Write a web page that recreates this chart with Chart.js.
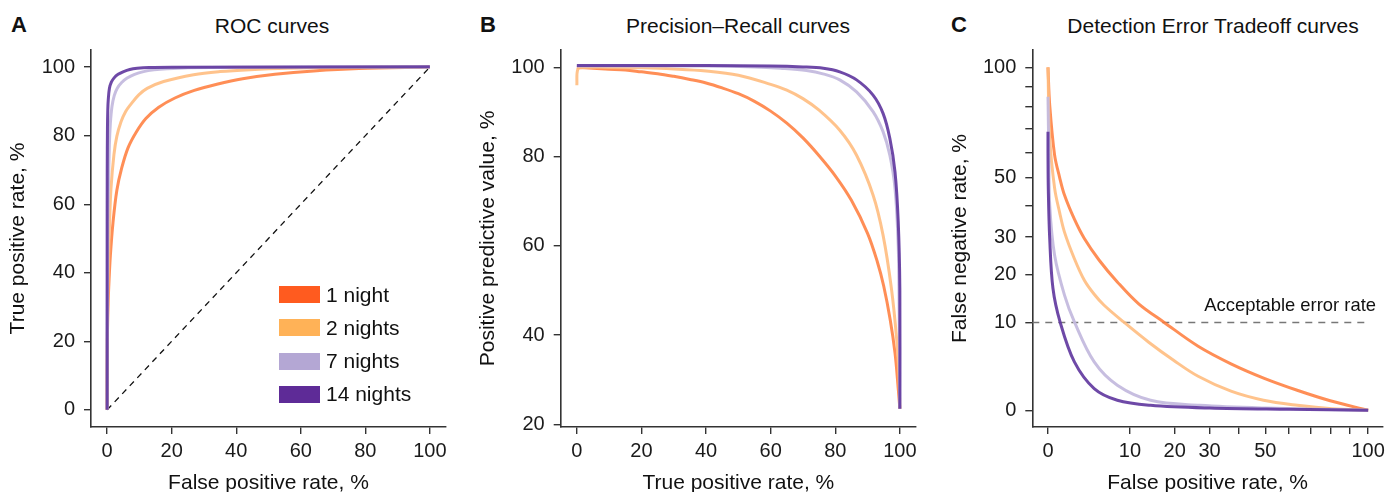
<html>
<head>
<script src="https://cdn.jsdelivr.net/npm/chart.js"></script>
<style>
  body { margin:0; background:#fff; width:1390px; height:492px; overflow:hidden; position:relative;
         font-family:'Liberation Sans', Arial, Helvetica, sans-serif; color:#111; }
  canvas { position:absolute; top:0; }
  .letter { position:absolute; top:14px; font-weight:bold; font-size:22px; line-height:1; }
  .title { position:absolute; top:15px; width:400px; font-size:21px; line-height:1; text-align:center; white-space:nowrap; }
  .key { position:absolute; left:279px; width:41px; height:17px; }
  .keytext { position:absolute; left:326px; font-size:21px; line-height:1; white-space:nowrap; }
  #note { position:absolute; right:14px; top:296px; font-size:18.4px; line-height:1; white-space:nowrap; }
</style>
</head>
<body>
  <div class="letter" style="left:11px">A</div>
  <div class="letter" style="left:480px">B</div>
  <div class="letter" style="left:951px">C</div>
  <div class="title" style="left:72px">ROC curves</div>
  <div class="title" style="left:538px">Precision–Recall curves</div>
  <div class="title" style="left:1013px">Detection Error Tradeoff curves</div>

  <canvas id="roc" width="460" height="492" style="left:0px"></canvas>
  <canvas id="pr" width="470" height="492" style="left:460px"></canvas>
  <canvas id="det" width="460" height="492" style="left:930px"></canvas>

  <div id="legend"></div>
  <div id="note">Acceptable error rate</div>

<script>
// series
const seriesNames = ['1 night', '2 nights', '7 nights', '14 nights'];
const lineColors = ['rgba(255,122,56,0.85)', 'rgba(255,188,128,0.9)', 'rgba(196,186,222,0.95)', 'rgba(98,58,160,0.92)'];
const keyColors = ['#ff5b1f', '#ffb257', '#b4a7d4', '#5e2b97'];

// ROC: false positive rate (x) vs true positive rate (y), %
const roc1x = [0, 0.1, 0.3, 0.6, 1.0, 1.8, 3.0, 4.5, 6.5, 9, 12, 16, 21, 27, 34, 42, 52, 64, 78, 100];
const roc1y = [0, 22, 31, 38, 45, 54.5, 64, 70.5, 76.5, 81, 85, 88.3, 91, 93.2, 95, 96.6, 97.9, 98.9, 99.6, 100];
const roc2x = [0, 0.05, 0.2, 0.45, 0.8, 1.2, 2.1, 3.0, 4.3, 5.7, 7.2, 9.8, 12.4, 17.5, 26.8, 35, 44.3, 56, 72, 100];
const roc2y = [0, 20, 33, 44, 56, 64.7, 74.4, 79.8, 84.1, 87, 89, 91.9, 93.8, 95.8, 97.8, 98.7, 99.25, 99.65, 99.9, 100];
const roc7x = [0, 0.03, 0.1, 0.2, 0.4, 0.7, 1.0, 1.5, 2.2, 3.1, 4.5, 6.2, 8.5, 11.3, 14.5, 18.6, 25, 40, 100];
const roc7y = [0, 20, 35, 52, 64.7, 77.5, 83.6, 88.5, 91.7, 93.8, 95.5, 96.8, 97.9, 98.7, 99.2, 99.55, 99.85, 100, 100];
const roc14x = [0, 0, 0.03, 0.1, 0.2, 0.35, 0.7, 1.3, 2.1, 3.4, 5.1, 7, 9.3, 13, 20, 100];
const roc14y = [0, 40, 70, 82, 87.5, 90.5, 93.8, 95.6, 96.8, 97.9, 98.7, 99.3, 99.65, 99.9, 100, 100.1];

// Precision-Recall: true positive rate (x) vs positive predictive value (y), %
const pr1x = [0, 5, 10, 15, 20, 25, 30, 35, 40, 45, 50, 55, 60, 65, 70, 75, 80, 85, 90, 93, 95, 97, 98.5, 99.5, 100];
const pr1y = [100, 99.8, 99.6, 99.4, 99.0, 98.6, 98.0, 97.3, 96.5, 95.4, 94.1, 92.4, 90.2, 87.5, 84.2, 80.2, 75.7, 70.2, 62.8, 56.5, 51, 43.5, 36, 28, 23.5];
const pr2x = [0, 0.3, 2, 10, 20, 30, 40, 50, 60, 65, 70, 75, 81.4, 86.6, 91.7, 94.8, 97.4, 99.0, 99.7, 100];
const pr2y = [96, 99.6, 100, 100, 99.9, 99.65, 99.2, 98.25, 96.2, 94.9, 93.0, 90.4, 85.9, 80.3, 71.4, 62.4, 50.4, 39.2, 31, 23.5];
const pr7x = [0, 20, 40, 55, 63, 71.1, 76.5, 81.4, 86.6, 91.7, 94.8, 96.9, 98.5, 99.5, 99.8, 100];
const pr7y = [100.3, 100.3, 100.3, 100.1, 99.8, 99.3, 98.5, 97.2, 94.5, 90.1, 85.6, 80.3, 72.9, 60, 45, 23.5];
const pr14x = [0, 20, 40, 60, 70, 76.3, 81.4, 86.6, 91.7, 94.8, 96.9, 98.5, 99.5, 100, 100];
const pr14y = [100.4, 100.4, 100.4, 100.3, 100.1, 99.8, 99.0, 97.2, 93.8, 89.7, 84.1, 76.6, 65.4, 50.4, 23.5];

// DET: false positive rate (x) vs false negative rate (y), %
const det1x = [0, 0.1, 0.41, 0.76, 1.15, 2.05, 3.11, 4.99, 7.76, 11.7, 17.2, 26.5, 37.1, 49.6, 63.7, 79.6, 100];
const det1y = [100, 81, 58.8, 50.2, 43.6, 35.5, 29.6, 23.6, 18.25, 13.5, 10.1, 6.24, 3.96, 2.4, 1.34, 0.57, 0];
const det2x = [0, 0.1, 0.41, 0.76, 1.15, 2.05, 3.11, 4.32, 5.69, 8.9, 13.8, 19.7, 26.5, 37.1, 49.3, 63.8, 80.5, 100];
const det2y = [100, 66, 46.1, 37.8, 31.5, 24.0, 18.65, 15.5, 13.23, 10.05, 6.82, 4.38, 2.6, 1.26, 0.6, 0.28, 0.08, 0];
const det7x = [0, 0.05, 0.1, 0.41, 1.15, 2.05, 4.32, 7.76, 14.2, 27, 50, 100];
const det7y = [85, 58.8, 40.1, 24.9, 15.3, 10.1, 4.18, 1.76, 0.6, 0.28, 0.12, 0];
const det14x = [0, 0, 0.02, 0.1, 0.3, 0.8, 2.05, 4.32, 7.76, 14.2, 30, 60, 100];
const det14y = [68.7, 60, 45, 29.6, 16.8, 10.1, 4.18, 1.47, 0.6, 0.28, 0.12, 0.05, 0];
const acceptableError = 10;

// axes
const linTicks = [0, 20, 40, 60, 80, 100];
const prYTicks = [20, 40, 60, 80, 100];
const detTicks = [0, 10, 20, 30, 40, 50, 60, 70, 80, 90, 100];
const detLabels = [0, 10, 20, 30, 50, 100];
const detMin = -0.69;

const FONT = "'Liberation Sans', Arial, Helvetica, sans-serif";

// square-root-of-(v+1) axis used by the DET panel
class SqrtScale extends Chart.LinearScale {
  static id = 'sqrt1';
  static defaults = {};
  tf(v) { return Math.sqrt(Math.max(v, -1) + 1); }
  getPixelForValue(v) {
    const a = this.tf(this.min), b = this.tf(this.max);
    return this.getPixelForDecimal((this.tf(v) - a) / (b - a));
  }
  getValueForPixel(p) {
    const a = this.tf(this.min), b = this.tf(this.max);
    const t = a + this.getDecimalForPixel(p) * (b - a);
    return t * t - 1;
  }
}
Chart.register(SqrtScale);

function axis(o) {
  return {
    type: o.type || 'linear',
    min: o.min, max: o.max,
    afterBuildTicks: s => { s.ticks = o.ticks.map(v => ({value: v})); },
    afterFit: s => { if (o.isY) s.width = o.size; else s.height = o.size; },
    ticks: {
      autoSkip: false, maxRotation: 0, color: '#1a1a1a',
      font: {family: FONT, size: 20}, padding: o.isY ? 9 : 5,
      callback: v => (o.labels || o.ticks).includes(v) ? String(v) : ''
    },
    grid: {drawOnChartArea: false, drawTicks: true, tickLength: 7, color: '#333', tickColor: '#333', lineWidth: 1.4},
    border: {display: true, color: '#333', width: 1.6},
    title: {display: true, text: o.title, color: '#111', font: {family: FONT, size: 21, lineHeight: 0.8},
            padding: {top: o.titlePad || 0, bottom: 0}}
  };
}

function curves(xs, ys) {
  return seriesNames.map((name, i) => ({
    label: name,
    data: xs[i].map((x, j) => ({x: x, y: ys[i][j]})),
    borderColor: lineColors[i], borderWidth: 3, pointRadius: 0, tension: 0.35, fill: false, order: 4 - i
  }));
}

function makeChart(id, datasets, xAxis, yAxis, right) {
  return new Chart(document.getElementById(id), {
    type: 'line',
    data: {datasets: datasets},
    options: {
      responsive: false, animation: false, devicePixelRatio: 1, events: [],
      layout: {padding: {top: 50, right: right, left: 0, bottom: 0}},
      plugins: {legend: {display: false}, tooltip: {enabled: false}},
      scales: {x: xAxis, y: yAxis}
    }
  });
}

// A: ROC
const rocSets = curves([roc1x, roc2x, roc7x, roc14x], [roc1y, roc2y, roc7y, roc14y]);
rocSets.push({label: 'chance', data: [{x: 0, y: 0}, {x: 100, y: 100}], borderColor: '#111', borderWidth: 1.3,
              borderDash: [6, 5], pointRadius: 0, order: 10});
makeChart('roc', rocSets,
  axis({min: -5, max: 105, ticks: linTicks, title: 'False positive rate, %', size: 65}),
  axis({min: -5, max: 105, ticks: linTicks, title: 'True positive rate, %', size: 91, isY: true, titlePad: 10}),
  14);

// B: Precision-Recall
makeChart('pr', curves([pr1x, pr2x, pr7x, pr14x], [pr1y, pr2y, pr7y, pr14y]),
  axis({min: -5, max: 105, ticks: linTicks, title: 'True positive rate, %', size: 65}),
  axis({min: 19.4, max: 103.9, ticks: prYTicks, title: 'Positive predictive value, %', size: 100.7, isY: true, titlePad: 19.5}),
  14);

// C: DET
const detSets = curves([det1x, det2x, det7x, det14x], [det1y, det2y, det7y, det14y]);
detSets.push({label: 'Acceptable error rate', data: [{x: detMin, y: acceptableError}, {x: 100, y: acceptableError}],
              borderColor: '#777', borderWidth: 1.4, borderDash: [7, 6], pointRadius: 0, order: 10});
makeChart('det', detSets,
  axis({type: 'sqrt1', min: detMin, max: 108.6, ticks: detTicks, labels: detLabels, title: 'False positive rate, %', size: 65}),
  axis({type: 'sqrt1', min: -0.6875, max: 109.4, ticks: detTicks, labels: detLabels, title: 'False negative rate, %', size: 102.3, isY: true, titlePad: 21.5}),
  3.3);

// legend for panel A
const legend = document.getElementById('legend');
seriesNames.forEach((name, i) => {
  const top = 286 + i * 33.3;
  legend.insertAdjacentHTML('beforeend',
    `<div class="key" style="top:${top}px;background:${keyColors[i]}"></div>` +
    `<div class="keytext" style="top:${top - 2.5}px">${name}</div>`);
});
</script>
</body>
</html>
